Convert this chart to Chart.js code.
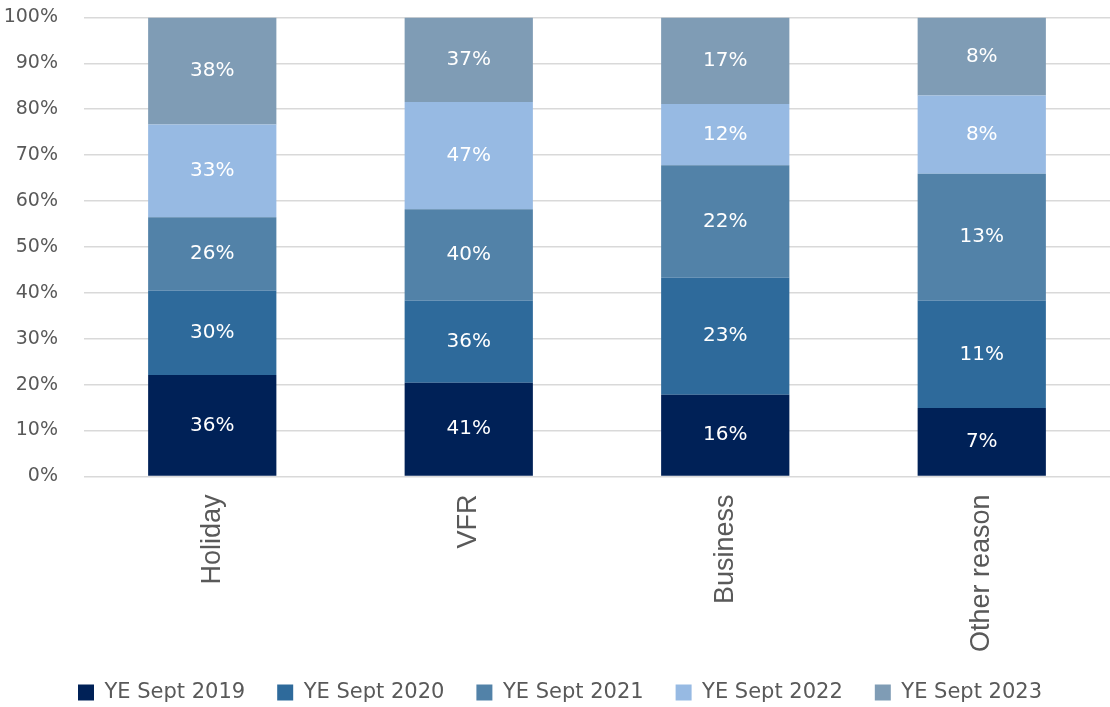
<!DOCTYPE html>
<html>
<head>
<meta charset="utf-8">
<script src="https://cdn.jsdelivr.net/npm/chart.js@4"></script>
<style>
  html, body { margin: 0; padding: 0; background: #fff; overflow: hidden; }
  #wrap { width: 1112px; height: 733px; margin-top: -20px; margin-left: -2px; }
</style>
</head>
<body>
<div id="wrap"><canvas id="chart"></canvas></div>
<script>
const categories = ["Holiday", "VFR", "Business", "Other reason"];
const seriesNames = ["YE Sept 2019", "YE Sept 2020", "YE Sept 2021", "YE Sept 2022", "YE Sept 2023"];
const sept2019 = [36, 41, 16, 7];
const sept2020 = [30, 36, 23, 11];
const sept2021 = [26, 40, 22, 13];
const sept2022 = [33, 47, 12, 8];
const sept2023 = [38, 37, 17, 8];
const colors = ["#002157", "#2e6a9b", "#5282a8", "#97bae3", "#7f9cb5"];
const yTicks = [0, 10, 20, 30, 40, 50, 60, 70, 80, 90, 100];

// segment heights are each value's share of its category total
const allSeries = [sept2019, sept2020, sept2021, sept2022, sept2023];
const totals = categories.map((c, i) => allSeries.reduce((s, arr) => s + arr[i], 0));

const FONT = "'DejaVu Sans', sans-serif";
const XFONT = "'Liberation Sans', Arial, sans-serif";
const GREY = "#595959";

const datasets = allSeries.map((arr, k) => ({
  label: seriesNames[k],
  data: arr.map((v, i) => v / totals[i] * 100),
  raw: arr,
  backgroundColor: colors[k],
  borderWidth: 0,
  barPercentage: 0.5,
  categoryPercentage: 1
}));

const labelPlugin = {
  id: "segLabels",
  afterDatasetsDraw(chart) {
    const ctx = chart.ctx;
    ctx.save();
    ctx.fillStyle = "#ffffff";
    ctx.font = "20px " + FONT;
    ctx.textAlign = "center";
    ctx.textBaseline = "middle";
    chart.data.datasets.forEach((ds, k) => {
      chart.getDatasetMeta(k).data.forEach((bar, i) => {
        const mid = (bar.y + bar.base) / 2;
        ctx.fillText(ds.raw[i] + "%", bar.x, mid);
      });
    });
    ctx.restore();
  }
};

// axes are squeezed with afterFit; widen their label clip boxes again
const unclip = {
  id: "unclip",
  afterLayout(chart) {
    chart.scales.y.left = 0;
    chart.scales.x.bottom = chart.height;
  }
};

new Chart(document.getElementById("chart"), {
  type: "bar",
  data: { labels: categories, datasets },
  plugins: [labelPlugin, unclip],
  options: {
    responsive: true,
    maintainAspectRatio: false,
    animation: false,
    layout: { padding: { top: 0, left: 12, right: 0, bottom: 0 } },
    plugins: {
      tooltip: { enabled: false },
      legend: {
        position: "bottom",
        labels: {
          color: GREY,
          font: { family: FONT, size: 21 },
          boxWidth: 16,
          boxHeight: 16,
          padding: 32
        }
      }
    },
    scales: {
      x: {
        stacked: true,
        grid: { display: false },
        border: { display: false },
        afterFit(axis) { axis.height -= 12; },
        ticks: {
          color: GREY,
          font: { family: XFONT, size: 27 },
          maxRotation: 90,
          minRotation: 90,
          padding: 10
        }
      },
      y: {
        stacked: true,
        min: 0,
        max: 100,
        afterBuildTicks(axis) { axis.ticks = yTicks.map(v => ({ value: v })); },
        afterFit(axis) { axis.width = 74; },
        grid: { color: "#d9d9d9", lineWidth: 1.5, drawTicks: false },
        border: { display: false },
        ticks: {
          color: GREY,
          font: { family: FONT, size: 19 },
          padding: 26,
          callback: v => v + "%"
        }
      }
    }
  }
});
</script>
</body>
</html>
